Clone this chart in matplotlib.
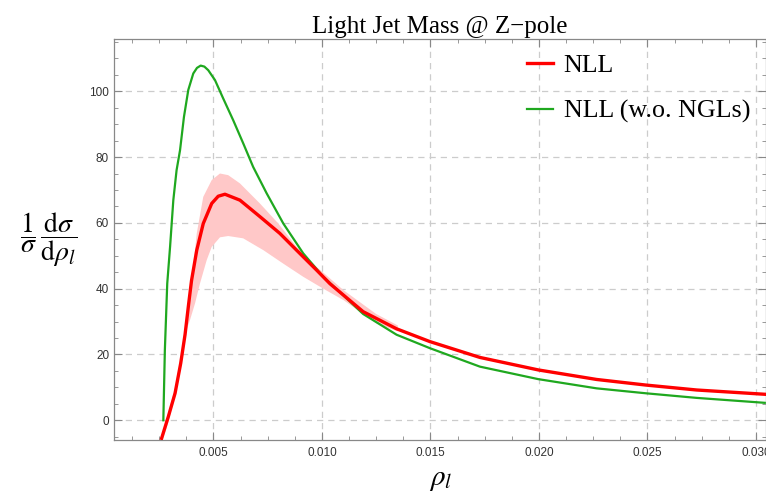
# Light jet mass distribution at the Z-pole, NLL with and without NGLs

import numpy as np
import matplotlib
matplotlib.use('Agg')
import matplotlib.pyplot as plt
from matplotlib.ticker import MultipleLocator

# NLL (red) curve
rho_nll = [0.00261, 0.00292, 0.00323, 0.00349, 0.00369, 0.00385, 0.00399, 0.00423,
           0.00453, 0.00492, 0.00522, 0.00553, 0.00622, 0.00714, 0.00806, 0.00883,
           0.00976, 0.01037, 0.0119, 0.01344, 0.01498, 0.01728, 0.01997, 0.02266,
           0.02493, 0.02727, 0.03041]
val_nll = [-5.5, 1.1, 8.2, 17.3, 26.0, 35.0, 42.5, 51.7,
           59.8, 65.9, 68.1, 68.7, 66.9, 61.9, 56.8, 51.7,
           45.6, 41.5, 33.0, 27.8, 23.9, 19.1, 15.3, 12.4,
           10.7, 9.2, 7.9]

# NLL without NGLs (green) curve
rho_nong = [0.00269, 0.00276, 0.00287, 0.00300, 0.00315, 0.00330, 0.00346, 0.00364,
            0.00384, 0.00407, 0.00424, 0.00441, 0.00458, 0.00476, 0.00507, 0.00545,
            0.00591, 0.00637, 0.00683, 0.00745, 0.00822, 0.00914, 0.01006, 0.01098,
            0.0119, 0.01344, 0.01498, 0.01728, 0.01997, 0.02266, 0.02493, 0.02727,
            0.03041]
val_nong = [0, 21.3, 41.6, 52.7, 66.9, 76.0, 82.1, 92.2,
            100.4, 105.4, 107.1, 107.8, 107.5, 106.4, 103.4, 97.8,
            91.2, 84.2, 77.0, 69.0, 59.8, 50.7, 43.6, 38.0,
            32.3, 26.0, 21.9, 16.3, 12.5, 9.7, 8.2, 6.8,
            5.3]

# uncertainty band of NLL: upper edge and lower edge
band_up_x = [0.00258, 0.0029, 0.0032, 0.00346, 0.00364, 0.00376, 0.00399, 0.00423,
             0.00453, 0.00492, 0.0053, 0.00568, 0.00622, 0.00714, 0.00799, 0.00883,
             0.00976, 0.0110, 0.0125, 0.0135]
band_up_y = [-6, 2, 9, 18, 26, 31.5, 41.6, 56.8,
             67.9, 73.0, 75.0, 74.5, 72.0, 65.9, 59.8, 52.7,
             46.6, 39.5, 32.3, 28.8]
band_lo_x = [0.00266, 0.0029, 0.0032, 0.00346, 0.00366, 0.00376, 0.00392, 0.00415,
             0.00438, 0.00469, 0.00492, 0.0053, 0.00568, 0.00637, 0.0073, 0.00822,
             0.00914, 0.01006, 0.0110, 0.0125, 0.0135]
band_lo_y = [-6, -1, 6.5, 15, 23, 27.4, 30.5, 35.5,
             41.6, 48.7, 52.7, 55.6, 56.0, 55.3, 51.7, 47.6,
             43.6, 40.0, 36.5, 29.5, 27.0]

plt.rcParams['mathtext.fontset'] = 'stix'

fig = plt.figure(figsize=(7.66, 4.93), dpi=100)
ax = fig.add_axes([0.1488, 0.1075, 0.851, 0.8135])

# band polygon: along the upper edge, back along the lower edge
poly_x = np.concatenate([band_up_x, band_lo_x[::-1]])
poly_y = np.concatenate([band_up_y, band_lo_y[::-1]])
ax.fill(poly_x, poly_y, color='#ffc8c8', lw=0, zorder=2)

ax.plot(rho_nll, val_nll, color='#ff0000', lw=2.4, label='NLL', zorder=4,
        solid_joinstyle='round')
ax.plot(rho_nong, val_nong, color='#1fa81f', lw=1.6, label='NLL (w.o. NGLs)', zorder=3,
        solid_joinstyle='round')

ax.set_xlim(0.000415, 0.03046)
ax.set_ylim(-6.0, 115.9)

ax.xaxis.set_major_locator(MultipleLocator(0.005))
ax.xaxis.set_minor_locator(MultipleLocator(0.00125))
ax.yaxis.set_major_locator(MultipleLocator(20))
ax.yaxis.set_minor_locator(MultipleLocator(5))
ax.xaxis.set_major_formatter(plt.FuncFormatter(lambda v, p: '%.3f' % v))

ax.tick_params(which='both', direction='in', top=True, right=True,
               color='#888888', labelsize=8.5, labelcolor='#333333')
ax.tick_params(which='major', length=6, width=0.8)
ax.tick_params(which='minor', length=3, width=0.6)
ax.tick_params(axis='x', pad=5)
for lab in ax.get_xticklabels() + ax.get_yticklabels():
    lab.set_family('Liberation Sans')
for s in ax.spines.values():
    s.set_color('#888888')
    s.set_linewidth(0.9)

ax.grid(True, which='major', color='#cccccc', ls=(0, (5, 4)), lw=0.9, zorder=0)

ax.set_title('Light Jet Mass @ Z\u2212pole', family='Liberation Serif', fontsize=18, pad=4)
fig.text(0.575, 0.028, r'$\rho_l$', fontsize=21, ha='center', va='center')
fig.text(0.064, 0.513, r'$\dfrac{1}{\sigma}\,\dfrac{\mathrm{d}\sigma}{\mathrm{d}\rho_l}$',
         fontsize=20, ha='center', va='center')

ax.legend(loc='upper left', bbox_to_anchor=(0.598, 1.02), frameon=False,
          prop={'family': 'Liberation Serif', 'size': 18.7},
          handlelength=1.0, handletextpad=0.4, labelspacing=0.85)

fig.savefig('out.png', dpi=100)
